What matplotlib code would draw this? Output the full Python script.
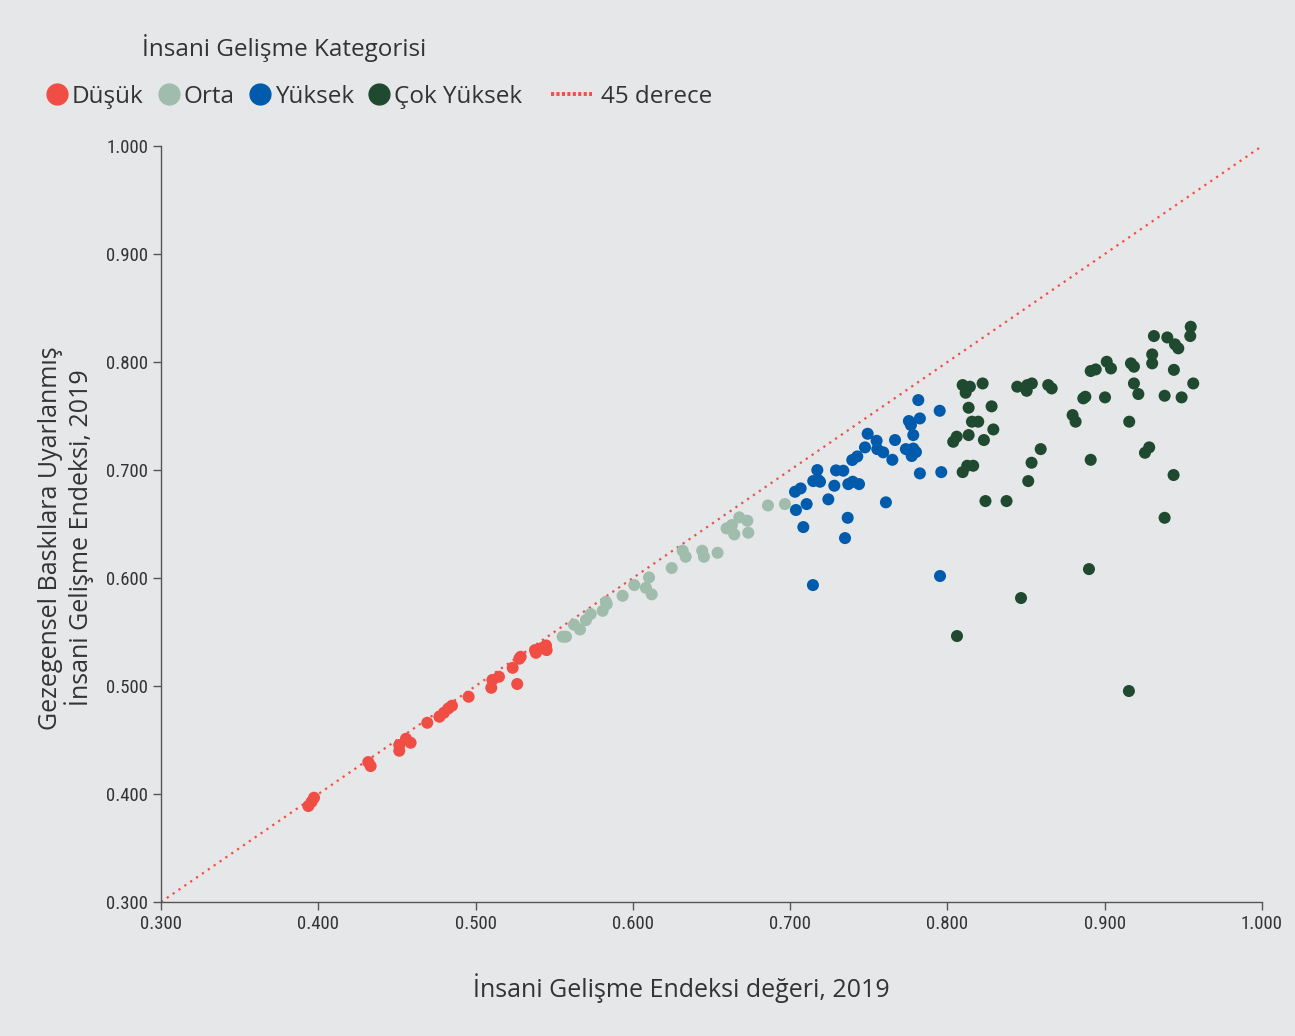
import matplotlib.pyplot as plt
from matplotlib.lines import Line2D

# insani gelisme endeksi (x) vs gezegensel baskilara uyarlanmis IGE (y), 2019
dusuk_x = [0.3937, 0.3958, 0.3973, 0.4318, 0.4333, 0.4515, 0.4515, 0.4558, 0.4587, 0.4693,
           0.4770, 0.4799, 0.4827, 0.4850, 0.4956, 0.5100, 0.5107, 0.5149, 0.5236, 0.5265,
           0.5278, 0.5287, 0.5378, 0.5384, 0.5416, 0.5448, 0.5452]
dusuk_y = [0.3889, 0.3929, 0.3966, 0.4296, 0.4259, 0.4454, 0.4401, 0.4512, 0.4475, 0.4660,
           0.4716, 0.4753, 0.4793, 0.4818, 0.4901, 0.4984, 0.5056, 0.5086, 0.5169, 0.5019,
           0.5253, 0.5271, 0.5333, 0.5308, 0.5349, 0.5376, 0.5333]

orta_x = [0.5554, 0.5575, 0.5626, 0.5664, 0.5702, 0.5732, 0.5808, 0.5834, 0.5829, 0.5935,
          0.6009, 0.6083, 0.6103, 0.6120, 0.6247, 0.6317, 0.6336, 0.6441, 0.6452, 0.6539,
          0.6596, 0.6630, 0.6645, 0.6677, 0.6728, 0.6734, 0.6859, 0.6967]
orta_y = [0.5457, 0.5457, 0.5568, 0.5524, 0.5611, 0.5667, 0.5697, 0.5759, 0.5780, 0.5836,
          0.5935, 0.5910, 0.6006, 0.5849, 0.6093, 0.6253, 0.6197, 0.6253, 0.6197, 0.6234,
          0.6460, 0.6491, 0.6404, 0.6562, 0.6531, 0.6420, 0.6672, 0.6685]

yuksek_x = [0.7031, 0.7067, 0.7037, 0.7105, 0.7084, 0.7173, 0.7147, 0.7179, 0.7190, 0.7243,
            0.7281, 0.7292, 0.7338, 0.7370, 0.7398, 0.7438, 0.7366, 0.7349, 0.7395, 0.7427,
            0.7476, 0.7493, 0.7550, 0.7554, 0.7592, 0.7650, 0.7667, 0.7609, 0.7736, 0.7755,
            0.7768, 0.7783, 0.7773, 0.7783, 0.7800, 0.7815, 0.7825, 0.7825, 0.7951, 0.7961,
            0.7145, 0.7953]
yuksek_y = [0.6799, 0.6830, 0.6630, 0.6685, 0.6472, 0.7000, 0.6898, 0.6907, 0.6892, 0.6729,
            0.6855, 0.6997, 0.6994, 0.6870, 0.6892, 0.6870, 0.6558, 0.6370, 0.7093, 0.7126,
            0.7210, 0.7336, 0.7271, 0.7194, 0.7164, 0.7095, 0.7278, 0.6701, 0.7194, 0.7454,
            0.7417, 0.7324, 0.7130, 0.7199, 0.7167, 0.7648, 0.7478, 0.6969, 0.7549, 0.6981,
            0.5935, 0.6019]

cok_yuksek_x = [0.8097, 0.8143, 0.8116, 0.8224, 0.8135, 0.8281, 0.8156, 0.8196, 0.8292, 0.8059,
                0.8037, 0.8135, 0.8232, 0.8097, 0.8126, 0.8164, 0.8242, 0.8376, 0.8444, 0.8504,
                0.8508, 0.8537, 0.8641, 0.8663, 0.8593, 0.8535, 0.8514, 0.8796, 0.8815, 0.8864,
                0.8877, 0.8911, 0.8943, 0.9002, 0.9013, 0.9040, 0.8911, 0.9156, 0.9167, 0.9186,
                0.9186, 0.9214, 0.9256, 0.9283, 0.9302, 0.9302, 0.9313, 0.9398, 0.9381, 0.9440,
                0.9447, 0.9468, 0.9489, 0.9547, 0.9544, 0.9563, 0.9381, 0.9438, 0.8900, 0.8468,
                0.8061, 0.9154]
cok_yuksek_y = [0.7787, 0.7772, 0.7716, 0.7802, 0.7577, 0.7590, 0.7448, 0.7448, 0.7376, 0.7309,
                0.7262, 0.7324, 0.7278, 0.6981, 0.7040, 0.7040, 0.6713, 0.6713, 0.7772, 0.7734,
                0.7787, 0.7802, 0.7787, 0.7756, 0.7194, 0.7068, 0.6898, 0.7509, 0.7448, 0.7664,
                0.7679, 0.7917, 0.7932, 0.7673, 0.8003, 0.7941, 0.7095, 0.7448, 0.7988, 0.7957,
                0.7802, 0.7704, 0.7160, 0.7210, 0.8071, 0.7988, 0.8241, 0.8228, 0.7688, 0.7928,
                0.8164, 0.8127, 0.7673, 0.8327, 0.8241, 0.7802, 0.6558, 0.6954, 0.6083, 0.5815,
                0.5463, 0.4954]

ticks = [0.3, 0.4, 0.5, 0.6, 0.7, 0.8, 0.9, 1.0]

bg = '#e6e7e9'
c_dusuk = '#f04e45'
c_orta = '#9fbcac'
c_yuksek = '#005bac'
c_cok = '#1f4a30'

plt.rcParams['font.family'] = ['Open Sans', 'DejaVu Sans']

fig = plt.figure(figsize=(12.95, 10.36), dpi=100, facecolor=bg)
ax = fig.add_axes([0.1243, 0.1293, 0.8502, 0.7297], facecolor=bg)

ax.plot([0.3, 1.0], [0.3, 1.0], linestyle=(0, (1, 2.2)), color=c_dusuk, linewidth=1.6, zorder=1)

for xs, ys, c in [(dusuk_x, dusuk_y, c_dusuk), (orta_x, orta_y, c_orta),
                  (yuksek_x, yuksek_y, c_yuksek), (cok_yuksek_x, cok_yuksek_y, c_cok)]:
    ax.scatter(xs, ys, s=75, color=c, edgecolors='none', zorder=2)

ax.set_xlim(0.3, 1.0)
ax.set_ylim(0.3, 1.0)
ax.set_xticks(ticks)
ax.set_yticks(ticks)
ax.set_xticklabels(['%.3f' % t for t in ticks])
ax.set_yticklabels(['%.3f' % t for t in ticks])
for s in ['top', 'right']:
    ax.spines[s].set_visible(False)
for s in ['left', 'bottom']:
    ax.spines[s].set_color('#555555')
    ax.spines[s].set_linewidth(1.0)
ax.tick_params(length=6, width=1, color='#555555', labelsize=13.5, labelcolor='#333333', pad=3)
for lab in ax.get_xticklabels() + ax.get_yticklabels():
    lab.set_family(['Liberation Sans Narrow', 'Roboto Condensed', 'Open Sans Condensed', 'Open Sans'])
    lab.set_stretch('condensed')

fig.text(681 / 1295, 1 - 988 / 1036, 'İnsani Gelişme Endeksi değeri, 2019',
         ha='center', va='center', fontsize=18, color='#333333')
fig.text(66 / 1295, 1 - 538 / 1036, 'Gezegensel Baskılara Uyarlanmış\nİnsani Gelişme Endeksi, 2019',
         ha='center', va='center', rotation=90, fontsize=18, color='#333333', linespacing=1.05)

fig.text(142 / 1295, 1 - 48 / 1036, 'İnsani Gelişme Kategorisi',
         ha='left', va='center', fontsize=17.5, color='#333333')

handles = [Line2D([], [], marker='o', linestyle='none', markersize=15, color=c_dusuk, label='Düşük'),
           Line2D([], [], marker='o', linestyle='none', markersize=15, color=c_orta, label='Orta'),
           Line2D([], [], marker='o', linestyle='none', markersize=15, color=c_yuksek, label='Yüksek'),
           Line2D([], [], marker='o', linestyle='none', markersize=15, color=c_cok, label='Çok Yüksek')]
leg1 = fig.legend(handles=handles, loc='center left', bbox_to_anchor=(23 / 1295, 1 - 97 / 1036),
                  ncol=4, frameon=False, fontsize=17.5, handletextpad=0.1, columnspacing=0.55,
                  handlelength=1.0, labelcolor='#333333')
line_h = [Line2D([], [], linestyle=(0, (0.8, 0.6)), linewidth=2.8, color=c_dusuk, label='45 derece')]
leg2 = fig.legend(handles=line_h, loc='center left', bbox_to_anchor=(529 / 1295, 1 - 97 / 1036),
                  frameon=False, fontsize=17.5, handletextpad=0.35, handlelength=1.7,
                  labelcolor='#333333')

fig.savefig('out.png', dpi=100, facecolor=bg)
